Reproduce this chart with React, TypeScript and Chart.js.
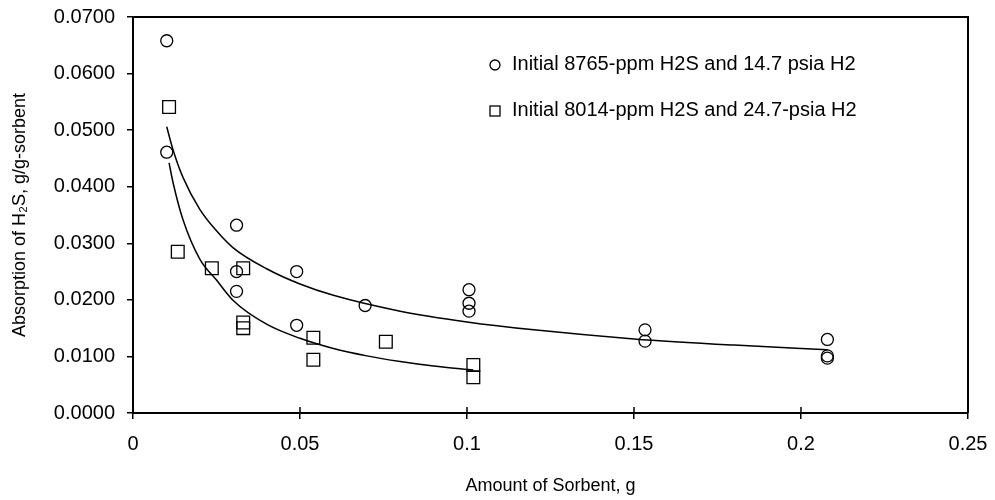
import React, { useEffect, useRef } from "react";
import { Chart, registerables } from "chart.js";

Chart.register(...registerables);

// Series 1: Initial 8765-ppm H2S and 14.7 psia H2 (circles)
const circleX = [0.0101, 0.0101, 0.031, 0.031, 0.031, 0.049, 0.049, 0.0695, 0.1006, 0.1006, 0.1006, 0.1533, 0.1533, 0.2079, 0.2079, 0.2079];
const circleY = [0.0658, 0.0461, 0.0332, 0.025, 0.0215, 0.025, 0.0155, 0.019, 0.0218, 0.0194, 0.018, 0.0147, 0.0127, 0.013, 0.0101, 0.0097];

// Series 2: Initial 8014-ppm H2S and 24.7-psia H2 (squares)
const squareX = [0.0108, 0.0134, 0.0236, 0.033, 0.033, 0.033, 0.054, 0.054, 0.0757, 0.1019, 0.1019];
const squareY = [0.0541, 0.0285, 0.0256, 0.0256, 0.016, 0.015, 0.0133, 0.0094, 0.0126, 0.0085, 0.0063];

// Trend lines
const trend1X = [0.0101, 0.012, 0.015, 0.02, 0.025, 0.03, 0.04, 0.05, 0.06, 0.08, 0.1, 0.12, 0.15, 0.18, 0.2079];
const trend1Y = [0.0506, 0.0465, 0.0416, 0.036, 0.0322, 0.0292, 0.0255, 0.0228, 0.0208, 0.018, 0.0161, 0.0147, 0.0131, 0.012, 0.0112];
const trend2X = [0.0108, 0.012, 0.015, 0.02, 0.025, 0.03, 0.04, 0.05, 0.06, 0.07, 0.08, 0.09, 0.1019];
const trend2Y = [0.0442, 0.0407, 0.0341, 0.0272, 0.0235, 0.0199, 0.0157, 0.0132, 0.0114, 0.0101, 0.0091, 0.0083, 0.0076];

const legendLabels = [
  "Initial 8765-ppm H2S and 14.7 psia H2",
  "Initial 8014-ppm H2S and 24.7-psia H2",
];
const xTitle = "Amount of Sorbent, g";
const yTitle = "Absorption of H\u2082S, g/g-sorbent";

const FONT = "'Liberation Sans', Arial, sans-serif";

const pts = (xs: number[], ys: number[]) => xs.map((x, i) => ({ x, y: ys[i] }));

const framePlugin = {
  id: "frame",
  afterDatasetsDraw(chart: any) {
    const { ctx, chartArea: a, scales } = chart;
    ctx.save();
    ctx.strokeStyle = "#000";
    ctx.lineWidth = 2;
    ctx.beginPath();
    ctx.moveTo(a.left, a.top);
    ctx.lineTo(a.right, a.top);
    ctx.lineTo(a.right, a.bottom);
    ctx.stroke();
    // upward part of x ticks (ticks cross the axis)
    const xs = scales.x;
    ctx.lineWidth = 1.5;
    xs.ticks.forEach((t: any) => {
      const px = xs.getPixelForValue(t.value);
      ctx.beginPath();
      ctx.moveTo(px, a.bottom);
      ctx.lineTo(px, a.bottom - 6);
      ctx.stroke();
    });
    // legend
    const lx = a.left + 362;
    const ly = [a.top + 48, a.top + 94];
    ctx.lineWidth = 1.3;
    ctx.beginPath();
    ctx.arc(lx, ly[0], 5, 0, Math.PI * 2);
    ctx.stroke();
    ctx.strokeRect(lx - 5, ly[1] - 5, 10, 10);
    ctx.fillStyle = "#000";
    ctx.font = `20px ${FONT}`;
    ctx.textBaseline = "middle";
    ctx.textAlign = "left";
    legendLabels.forEach((s, i) => ctx.fillText(s, lx + 17, ly[i] - 1));
    ctx.restore();
  },
};

export default function App() {
  const ref = useRef<HTMLCanvasElement | null>(null);
  useEffect(() => {
    if (!ref.current) return;
    const chart = new Chart(ref.current, {
      type: "scatter",
      data: {
        datasets: [
          {
            label: legendLabels[0],
            data: pts(circleX, circleY),
            pointStyle: "circle",
            pointRadius: 6,
            pointBorderWidth: 1.3,
            pointBorderColor: "#000",
            pointBackgroundColor: "rgba(0,0,0,0)",
            showLine: false,
          },
          {
            label: legendLabels[1],
            data: pts(squareX, squareY),
            pointStyle: "rect",
            pointRadius: 9,
            pointBorderWidth: 1.3,
            pointBorderColor: "#000",
            pointBackgroundColor: "rgba(0,0,0,0)",
            showLine: false,
          },
          {
            label: "trend1",
            data: pts(trend1X, trend1Y),
            showLine: true,
            borderColor: "#000",
            borderWidth: 1.5,
            pointRadius: 0,
            cubicInterpolationMode: "monotone",
          },
          {
            label: "trend2",
            data: pts(trend2X, trend2Y),
            showLine: true,
            borderColor: "#000",
            borderWidth: 1.5,
            pointRadius: 0,
            cubicInterpolationMode: "monotone",
          },
        ],
      },
      options: {
        animation: false,
        responsive: true,
        maintainAspectRatio: false,
        layout: { padding: { top: 17, right: 27, left: 0, bottom: 0 } },
        plugins: { legend: { display: false }, tooltip: { enabled: false } },
        scales: {
          x: {
            type: "linear",
            min: 0,
            max: 0.25,
            afterFit: (s: any) => {
              s.height = 87;
              s.paddingLeft = 0;
              s.paddingRight = 0;
            },
            ticks: {
              stepSize: 0.05,
              color: "#000",
              padding: 13,
              font: { family: FONT, size: 20 },
              callback: (v: any) => String(Number(Number(v).toFixed(2))),
            },
            grid: { drawOnChartArea: false, drawTicks: true, tickLength: 6, color: "#000", lineWidth: 1.5 },
            border: { display: true, color: "#000", width: 2 },
            title: {
              display: true,
              text: xTitle,
              color: "#000",
              font: { family: FONT, size: 18 },
              padding: { top: 4, bottom: 3 },
            },
          },
          y: {
            type: "linear",
            min: 0,
            max: 0.07,
            afterFit: (s: any) => {
              s.width = 133;
              s.paddingTop = 0;
              s.paddingBottom = 0;
            },
            ticks: {
              stepSize: 0.01,
              color: "#000",
              padding: 12,
              font: { family: FONT, size: 20 },
              callback: (v: any) => Number(v).toFixed(4),
            },
            grid: { drawOnChartArea: false, drawTicks: true, tickLength: 6, color: "#000", lineWidth: 1.5 },
            border: { display: true, color: "#000", width: 2 },
            title: {
              display: true,
              text: yTitle,
              color: "#000",
              font: { family: FONT, size: 18 },
              padding: { top: 9, bottom: 4 },
            },
          },
        },
      },
      plugins: [framePlugin],
    } as any);
    return () => chart.destroy();
  }, []);
  return (
    <div style={{ position: "absolute", left: 0, top: 0, width: 995, height: 500, background: "#fff" }}>
      <canvas ref={ref} />
    </div>
  );
}
